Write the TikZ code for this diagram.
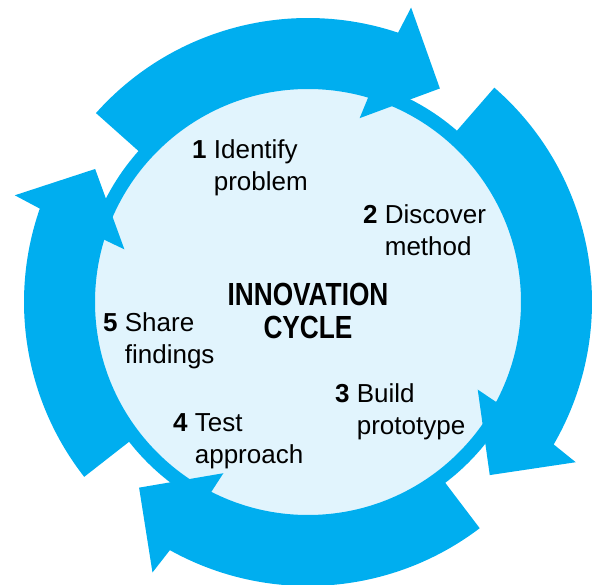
\documentclass[tikz,border=0pt]{standalone}
\usepackage{fontspec}
\setmainfont{Liberation Sans}
\newfontfamily\headfont[FakeStretch=0.82]{Liberation Sans}
\definecolor{cycleblue}{HTML}{00AEEF}
\definecolor{cyclelight}{HTML}{E1F4FD}
% tail angle, outer barb angle, inner barb angle, tip angle
\newcommand{\cyclearrow}[4]{%
  \fill[arrowband] (#1:221) -- (#1:284)
    arc[start angle=#1, end angle=#2+0.8, radius=284]
    -- (#2:312) -- (#4:251) -- (#3:191) -- (#2+2.7:221)
    arc[start angle=#2+2.7, end angle=#1, radius=221] -- cycle;}
\newcommand{\stagetext}[3]{\textbf{#1} \begin{tabular}[t]{@{}l@{}}#2\\#3\end{tabular}}

\begin{document}
\begin{tikzpicture}[x=1pt,y=1pt]

			\tikzstyle{arrowband}=[fill=cycleblue]
			\tikzstyle{ring}=[draw=cycleblue,line width=14pt,fill=cyclelight]
			\tikzstyle{steplabel}=[inner sep=0pt,anchor=base west,
				font=\fontsize{26}{32}\selectfont]
			\tikzstyle{headline}=[inner sep=0pt,anchor=base,
				font=\headfont\bfseries\fontsize{32}{36}\selectfont]

			\useasboundingbox (-308,-282) rectangle (284,302);

			\node[ring,circle,minimum size=440pt,inner sep=0pt] (hub) at (0,0) {};

			\cyclearrow{138.3}{70.7}{74.3}{58.3}
			\cyclearrow{49}{-30.9}{-27.3}{-43.6}
			\cyclearrow{-52.8}{-119.9}{-116.3}{-132.3}
			\cyclearrow{218}{160}{164}{148}

			\node[headline] (innov) at (0,-3) {INNOVATION};
			\node[headline] (cycle) at (0,-36) {CYCLE};

			\node[steplabel] (s1) at (-116,143) {\stagetext{1}{Identify}{problem}};
			\node[steplabel] (s2) at (55,78.5) {\stagetext{2}{Discover}{method}};
			\node[steplabel] (s3) at (27,-100) {\stagetext{3}{Build}{prototype}};
			\node[steplabel] (s4) at (-135,-129) {\stagetext{4}{Test}{approach}};
			\node[steplabel] (s5) at (-205,-29.4) {\stagetext{5}{Share}{findings}};

		\end{tikzpicture}
\end{document}
